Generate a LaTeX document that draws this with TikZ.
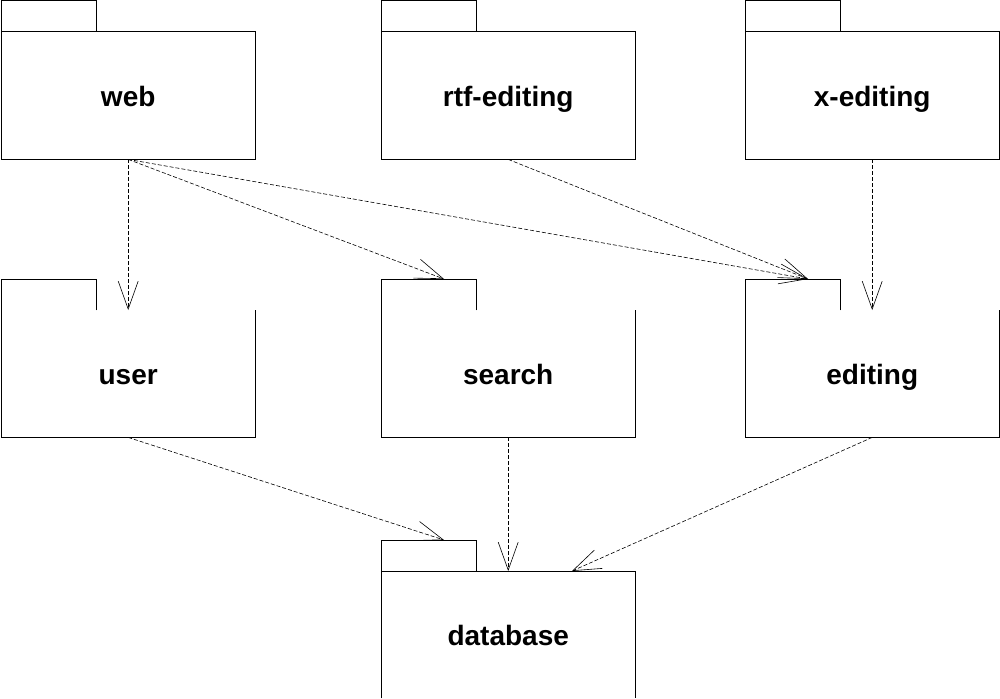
\documentclass[tikz,border=0pt]{standalone}
\usepackage{fontspec}
\setmainfont{Liberation Sans}
\usetikzlibrary{arrows.meta}
\begin{document}
\begin{tikzpicture}[x=1pt,y=-1pt,
  body/.style={minimum width=254pt, minimum height=127pt, inner sep=0pt, anchor=north west,
    text height=24pt, text depth=3pt, font=\bfseries\fontsize{28}{30}\selectfont},
  tabbox/.style={minimum width=95pt, minimum height=31pt, inner sep=0pt, anchor=north west},
  outline/.style={line width=1pt, line join=miter},
  dep/.style={line width=0.6pt, dash pattern=on 4pt off 2pt,
    -{Straight Barb[length=28pt,width=20pt,line width=0.6pt]}}]
\useasboundingbox (0,0) rectangle (1000,698);

% top row
\node[tabbox] (webtab) at (1,1) {};
\node[body] (web) at (1,32) {web};
\node[tabbox] (rtftab) at (381,1) {};
\node[body] (rtf) at (381,32) {rtf-editing};
\node[tabbox] (xedtab) at (745,1) {};
\node[body] (xed) at (745,32) {x-editing};
\foreach \n in {web,rtf,xed}{
  \draw[outline] (\n tab.south west) |- (\n tab.north east) -- (\n tab.south east);
  \draw[outline] (\n.north west) rectangle (\n.south east);
}

% middle row
\node[tabbox] (usertab) at (1,279) {};
\node[body] (user) at (1,310) {user};
\node[tabbox] (searchtab) at (381,279) {};
\node[body] (search) at (381,310) {search};
\node[tabbox] (edittab) at (745,279) {};
\node[body] (editing) at (745,310) {editing};
\foreach \n/\t in {user/usertab,search/searchtab,editing/edittab}{
  \draw[outline] (\t.south east) -- (\t.north east) -- (\t.north west) -- (\n.south west) -- (\n.south east) -- (\n.north east);
}

% bottom
\node[tabbox] (dbtab) at (381,540) {};
\node[body] (database) at (381,571) {database};
\draw[outline] (dbtab.south west) |- (dbtab.north east) -- (dbtab.south east);
\draw[outline] (database.south west) -- (database.north west) -- (database.north east) -- (database.south east);

% arrow end points
\coordinate (searchin) at (444,279);
\coordinate (editin) at (808,279);
\coordinate (dbin1) at (444,540);
\coordinate (dbin2) at (572,571);

\draw[dep] (web.south) -- (user.north);
\draw[dep] (web.south) -- (searchin);
\draw[dep] (web.south) -- (editin);
\draw[dep] (rtf.south) -- (editin);
\draw[dep] (xed.south) -- (editing.north);
\draw[dep] (user.south) -- (dbin1);
\draw[dep] (search.south) -- (database.north);
\draw[dep] (editing.south) -- (dbin2);
\end{tikzpicture}
\end{document}
